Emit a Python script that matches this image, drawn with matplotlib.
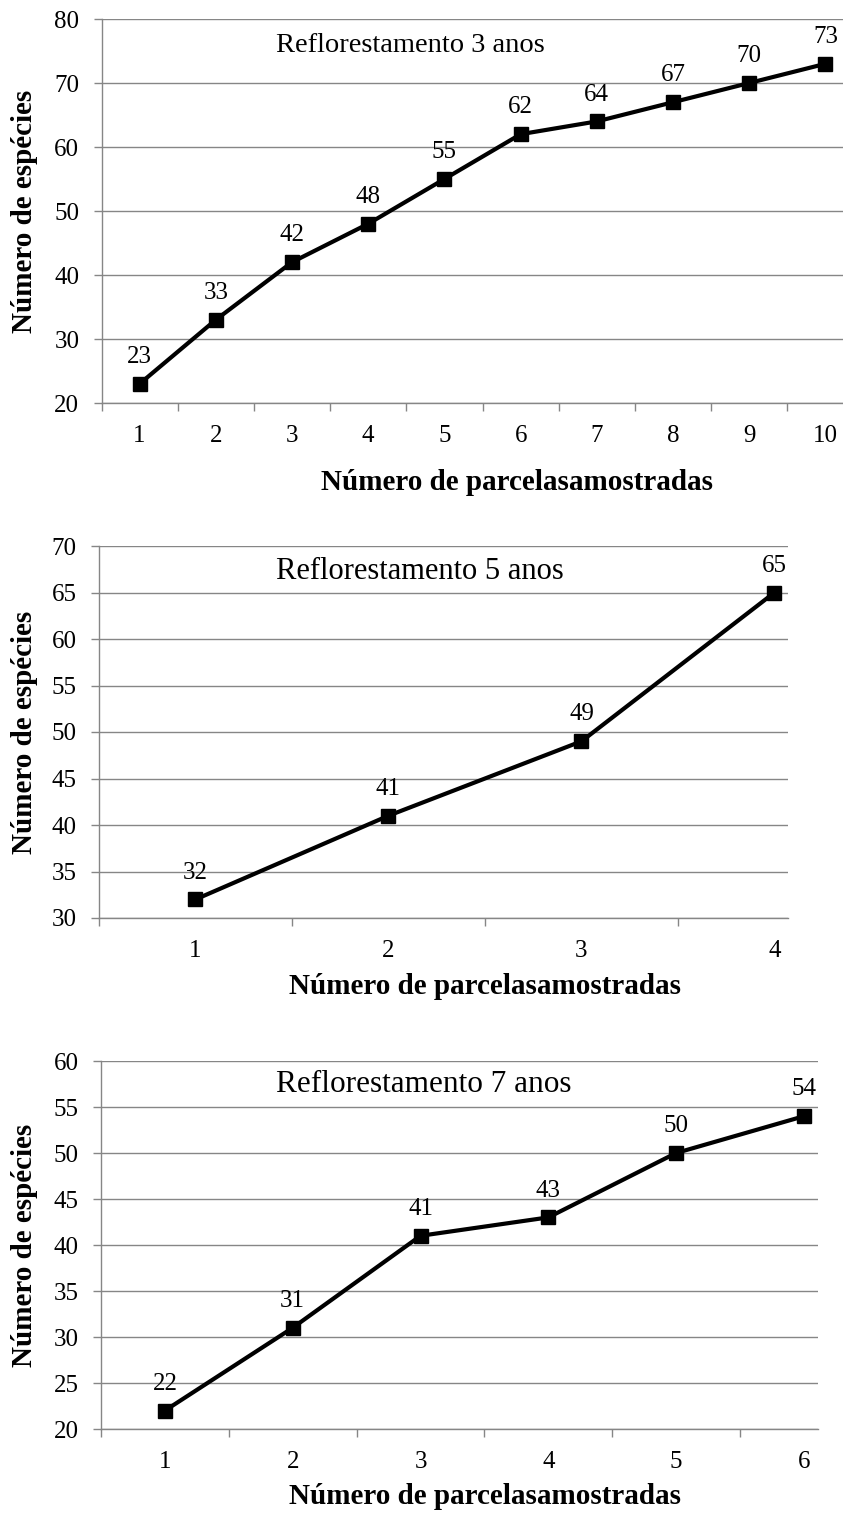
import numpy as np
import matplotlib.pyplot as plt
from matplotlib.ticker import MultipleLocator, FixedLocator, NullFormatter

parcelas_3anos = [1, 2, 3, 4, 5, 6, 7, 8, 9, 10]
especies_3anos = [23, 33, 42, 48, 55, 62, 64, 67, 70, 73]
parcelas_5anos = [1, 2, 3, 4]
especies_5anos = [32, 41, 49, 65]
parcelas_7anos = [1, 2, 3, 4, 5, 6]
especies_7anos = [22, 31, 41, 43, 50, 54]

titulos = ['Reflorestamento 3 anos', 'Reflorestamento 5 anos', 'Reflorestamento 7 anos']
y_limites = [(20, 80), (30, 70), (20, 60)]
y_passos = [10, 5, 5]

XLABEL = 'Número de parcelasamostradas'
YLABEL = 'Número de espécies'

# layout (pixels on the 843x1514 canvas)
W, H, DPI = 843, 1514, 100
boxes = [(101.5, 843, 19, 403), (99, 788, 546, 918), (101, 818, 1061, 1429)]  # left, right, top, bottom
x_max = [10.23, 4.07, 6.11]
title_base = [52, 579, 1092]
title_size = [20.5, 22, 22.5]
xlabel_y = [483, 987, 1497]
xlabel_x = [517, 485, 485]

GRID = '#868686'
SERIF = ['Liberation Serif', 'DejaVu Serif']
plt.rcParams['font.family'] = SERIF


def px_box(left, right, top, bottom):
    return [left / W, 1 - bottom / H, (right - left) / W, (bottom - top) / H]


def draw_panel(ax, x, y, i):
    ax.plot(x, y, color='black', lw=3, marker='s', ms=9.5, clip_on=False, zorder=3)
    for xi, yi in zip(x, y):
        ax.annotate(str(yi), (xi, yi), xytext=(0, 15), textcoords='offset points',
                    ha='center', va='baseline', fontsize=18)

    ax.set_xlim(0.5, x_max[i])
    ax.set_ylim(*y_limites[i])
    ax.yaxis.set_major_locator(MultipleLocator(y_passos[i]))
    ax.grid(axis='y', color=GRID, lw=1)
    ax.set_axisbelow(True)

    # Excel-style category axis: ticks between categories, labels on them
    ax.xaxis.set_major_locator(FixedLocator(np.arange(0.5, len(x) + 1, 1)))
    ax.xaxis.set_major_formatter(NullFormatter())
    ax.set_xticks(x, minor=True)
    ax.set_xticklabels([str(v) for v in x], minor=True)
    ax.tick_params(axis='x', which='minor', length=0, pad=16, labelsize=18)
    ax.tick_params(axis='x', which='major', length=6, width=1, color=GRID)
    ax.tick_params(axis='y', length=6, width=1, color=GRID, pad=10, labelsize=18)

    for s in ['top', 'right']:
        ax.spines[s].set_visible(False)
    for s in ['left', 'bottom']:
        ax.spines[s].set_color(GRID)
        ax.spines[s].set_linewidth(1)

    fig.text(276 / W, 1 - title_base[i] / H, titulos[i], fontsize=title_size[i],
             ha='left', va='baseline')
    fig.text(xlabel_x[i] / W, 1 - xlabel_y[i] / H, XLABEL, fontsize=21,
             fontweight='bold', ha='center', va='center')
    top, bottom = boxes[i][2], boxes[i][3]
    fig.text(25 / W, 1 - (top + bottom) / 2 / H, YLABEL, fontsize=21,
             fontweight='bold', rotation=90, ha='center', va='center')


fig = plt.figure(figsize=(W / DPI, H / DPI), dpi=DPI)
series = [(parcelas_3anos, especies_3anos),
          (parcelas_5anos, especies_5anos),
          (parcelas_7anos, especies_7anos)]
for i, (x, y) in enumerate(series):
    ax = fig.add_axes(px_box(*boxes[i]))
    draw_panel(ax, x, y, i)

fig.savefig('out.png', dpi=DPI)
